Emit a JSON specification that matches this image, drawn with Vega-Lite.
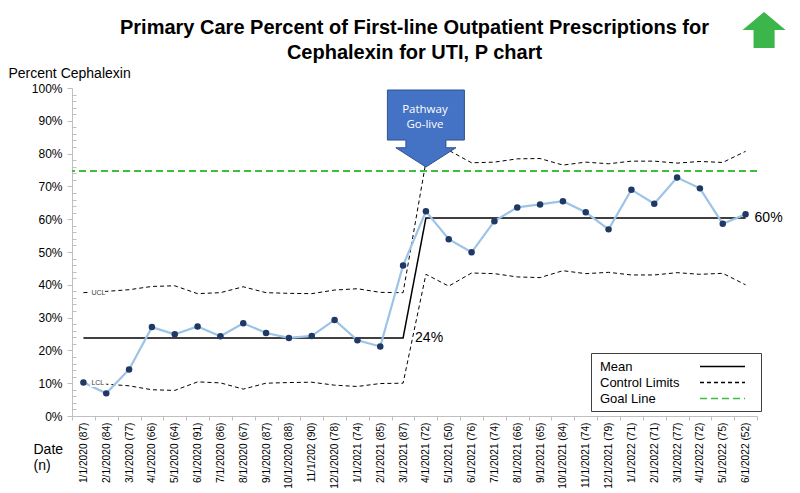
{
  "$schema": "https://vega.github.io/schema/vega-lite/v6.json",
  "width": 685,
  "height": 328,
  "autosize": {"type": "none"},
  "padding": {"left": 72, "top": 88, "right": 43, "bottom": 77},
  "background": "white",
  "title": {
    "text": ["Primary Care Percent of First-line Outpatient Prescriptions for", "Cephalexin for UTI, P chart"],
    "font": "Liberation Sans",
    "fontSize": 20,
    "fontWeight": "bold",
    "lineHeight": 25,
    "color": "#000000",
    "anchor": "middle",
    "frame": "group",
    "offset": 0,
    "dy": 51
  },
  "config": {
    "font": "Liberation Sans",
    "view": {"stroke": null},
    "legend": {
      "orient": "none",
      "legendX": 519,
      "legendY": 265,
      "symbolType": "M-3,0L3,0M4,0",
      "symbolSize": 225,
      "symbolStrokeWidth": 1.5,
      "symbolOffset": 118,
      "labelOffset": -131,
      "labelFontSize": 13,
      "labelFont": "Liberation Sans",
      "labelColor": "#000000",
      "labelLimit": 300,
      "padding": 5,
      "rowPadding": 0,
      "strokeColor": "#404040",
      "fillColor": "white"
    }
  },
  "data": {
    "values": [
      {"label": "1/1/2020 (87)", "pct": 0.102, "mean": 0.238, "UCL": 0.376, "LCL": 0.100},
      {"label": "2/1/2020 (84)", "pct": 0.069, "mean": 0.238, "UCL": 0.380, "LCL": 0.097},
      {"label": "3/1/2020 (77)", "pct": 0.142, "mean": 0.238, "UCL": 0.385, "LCL": 0.092},
      {"label": "4/1/2020 (66)", "pct": 0.271, "mean": 0.238, "UCL": 0.395, "LCL": 0.080},
      {"label": "5/1/2020 (64)", "pct": 0.249, "mean": 0.238, "UCL": 0.397, "LCL": 0.078},
      {"label": "6/1/2020 (91)", "pct": 0.273, "mean": 0.238, "UCL": 0.373, "LCL": 0.104},
      {"label": "7/1/2020 (86)", "pct": 0.243, "mean": 0.238, "UCL": 0.376, "LCL": 0.101},
      {"label": "8/1/2020 (67)", "pct": 0.283, "mean": 0.238, "UCL": 0.394, "LCL": 0.082},
      {"label": "9/1/2020 (87)", "pct": 0.253, "mean": 0.238, "UCL": 0.376, "LCL": 0.100},
      {"label": "10/1/2020 (88)", "pct": 0.238, "mean": 0.238, "UCL": 0.374, "LCL": 0.102},
      {"label": "11/1/202 (90)", "pct": 0.244, "mean": 0.238, "UCL": 0.373, "LCL": 0.103},
      {"label": "12/1/2020 (78)", "pct": 0.293, "mean": 0.238, "UCL": 0.384, "LCL": 0.094},
      {"label": "1/1/2021 (74)", "pct": 0.231, "mean": 0.238, "UCL": 0.388, "LCL": 0.090},
      {"label": "2/1/2021 (85)", "pct": 0.212, "mean": 0.238, "UCL": 0.377, "LCL": 0.099},
      {"label": "3/1/2021 (87)", "pct": 0.459, "mean": 0.238, "UCL": 0.376, "LCL": 0.100},
      {"label": "4/1/2021 (72)", "pct": 0.624, "mean": 0.604, "UCL": 0.775, "LCL": 0.432},
      {"label": "5/1/2021 (50)", "pct": 0.539, "mean": 0.604, "UCL": 0.810, "LCL": 0.396},
      {"label": "6/1/2021 (76)", "pct": 0.499, "mean": 0.604, "UCL": 0.772, "LCL": 0.436},
      {"label": "7/1/2021 (74)", "pct": 0.594, "mean": 0.604, "UCL": 0.774, "LCL": 0.434},
      {"label": "8/1/2021 (66)", "pct": 0.636, "mean": 0.604, "UCL": 0.784, "LCL": 0.424},
      {"label": "9/1/2021 (65)", "pct": 0.645, "mean": 0.604, "UCL": 0.785, "LCL": 0.422},
      {"label": "10/1/2021 (84)", "pct": 0.655, "mean": 0.604, "UCL": 0.765, "LCL": 0.443},
      {"label": "11/1/2021 (74)", "pct": 0.621, "mean": 0.604, "UCL": 0.774, "LCL": 0.434},
      {"label": "12/1/2021 (79)", "pct": 0.569, "mean": 0.604, "UCL": 0.769, "LCL": 0.438},
      {"label": "1/1/2022 (71)", "pct": 0.690, "mean": 0.604, "UCL": 0.777, "LCL": 0.430},
      {"label": "2/1/2022 (71)\u00a0\u00a0\u00a0\u00a0\u00a0", "pct": 0.647, "mean": 0.604, "UCL": 0.777, "LCL": 0.430},
      {"label": "3/1/2022 (77)", "pct": 0.727, "mean": 0.604, "UCL": 0.771, "LCL": 0.437},
      {"label": "4/1/2022 (72)", "pct": 0.694, "mean": 0.604, "UCL": 0.776, "LCL": 0.432},
      {"label": "5/1/2022 (75)", "pct": 0.586, "mean": 0.604, "UCL": 0.773, "LCL": 0.435},
      {"label": "6/1/2022 (52)", "pct": 0.615, "mean": 0.604, "UCL": 0.807, "LCL": 0.400}
    ]
  },
  "encoding": {
    "x": {
      "field": "label",
      "type": "ordinal",
      "sort": null,
      "scale": {
        "type": "band",
        "paddingInner": 0,
        "paddingOuter": 0,
        "domain": ["1/1/2020 (87)", "2/1/2020 (84)", "3/1/2020 (77)", "4/1/2020 (66)", "5/1/2020 (64)", "6/1/2020 (91)", "7/1/2020 (86)", "8/1/2020 (67)", "9/1/2020 (87)", "10/1/2020 (88)", "11/1/202 (90)", "12/1/2020 (78)", "1/1/2021 (74)", "2/1/2021 (85)", "3/1/2021 (87)", "4/1/2021 (72)", "5/1/2021 (50)", "6/1/2021 (76)", "7/1/2021 (74)", "8/1/2021 (66)", "9/1/2021 (65)", "10/1/2021 (84)", "11/1/2021 (74)", "12/1/2021 (79)", "1/1/2022 (71)", "2/1/2022 (71)\u00a0\u00a0\u00a0\u00a0\u00a0", "3/1/2022 (77)", "4/1/2022 (72)", "5/1/2022 (75)", "6/1/2022 (52)"]
      },
      "axis": {
        "title": ["Date", "(n)"],
        "labelAngle": -90,
        "labelFontSize": 10.2,
        "labelColor": "#000000",
        "labelPadding": 2,
        "tickBand": "extent",
        "tickSize": 4,
        "tickColor": "#bfbfbf",
        "domainColor": "#bfbfbf",
        "titleAngle": 0,
        "titleAlign": "left",
        "titleBaseline": "alphabetic",
        "titleX": -39,
        "titleY": 37,
        "titleFontSize": 14,
        "titleFontWeight": "normal",
        "titleColor": "#000000",
        "titleLineHeight": 16
      }
    }
  },
  "resolve": {"axis": {"y": "independent"}},
  "layer": [
    {
      "mark": {"type": "rule", "strokeWidth": 1.5},
      "encoding": {
        "x": null,
        "y": {"datum": 0.748, "type": "quantitative", "axis": null, "scale": {"domain": [0, 1], "nice": false}},
        "color": {"datum": "Goal Line", "type": "nominal", "legend": {"title": null}, "scale": {"domain": ["Mean", "Control Limits", "Goal Line"], "range": ["#000000", "#000000", "#3cbf3c"]}},
        "strokeDash": {"datum": "Goal Line", "type": "nominal", "legend": {"title": null}, "scale": {"domain": ["Mean", "Control Limits", "Goal Line"], "range": [[1, 0], [4, 3], [7, 4]]}}
      }
    },
    {
      "transform": [{"fold": ["UCL", "LCL"], "as": ["limit", "value"]}],
      "mark": {"type": "line", "strokeWidth": 1},
      "encoding": {
        "y": {"field": "value", "type": "quantitative", "axis": null, "scale": {"domain": [0, 1], "nice": false}},
        "detail": {"field": "limit"},
        "color": {"datum": "Control Limits", "type": "nominal", "legend": {"title": null}, "scale": {"domain": ["Mean", "Control Limits", "Goal Line"], "range": ["#000000", "#000000", "#3cbf3c"]}},
        "strokeDash": {"datum": "Control Limits", "type": "nominal", "legend": {"title": null}, "scale": {"domain": ["Mean", "Control Limits", "Goal Line"], "range": [[1, 0], [4, 3], [7, 4]]}}
      }
    },
    {
      "mark": {"type": "line", "strokeWidth": 1.5},
      "encoding": {
        "y": {"field": "mean", "type": "quantitative", "axis": null, "scale": {"domain": [0, 1], "nice": false}},
        "color": {"datum": "Mean", "type": "nominal", "legend": {"title": null}, "scale": {"domain": ["Mean", "Control Limits", "Goal Line"], "range": ["#000000", "#000000", "#3cbf3c"]}},
        "strokeDash": {"datum": "Mean", "type": "nominal", "legend": {"title": null}, "scale": {"domain": ["Mean", "Control Limits", "Goal Line"], "range": [[1, 0], [4, 3], [7, 4]]}}
      }
    },
    {
      "mark": {"type": "line", "color": "#9dc3e6", "strokeWidth": 2.2},
      "encoding": {
        "y": {
          "field": "pct",
          "type": "quantitative",
          "scale": {"domain": [0, 1], "nice": false},
          "axis": {
            "orient": "left",
            "title": "Percent Cephalexin",
            "format": ".0%",
            "values": [0, 0.1, 0.2, 0.3, 0.4, 0.5, 0.6, 0.7, 0.8, 0.9, 1],
            "grid": false,
            "domainColor": "#bfbfbf",
            "tickColor": "#bfbfbf",
            "tickSize": 5,
            "labelFontSize": 12,
            "labelColor": "#000000",
            "labelPadding": 5,
            "titleAngle": 0,
            "titleAlign": "left",
            "titleBaseline": "middle",
            "titleX": -64,
            "titleY": -15,
            "titleFontSize": 14,
            "titleFontWeight": "normal",
            "titleColor": "#000000"
          }
        }
      }
    },
    {
      "mark": {"type": "point", "filled": true, "color": "#1f3864", "size": 42, "opacity": 1},
      "encoding": {
        "y": {
          "field": "pct",
          "type": "quantitative",
          "scale": {"domain": [0, 1], "nice": false},
          "axis": {
            "orient": "left",
            "title": null,
            "labels": false,
            "domain": false,
            "grid": false,
            "tickColor": "#bfbfbf",
            "tickSize": 4,
            "offset": -4,
            "values": [0.02, 0.04, 0.06, 0.08, 0.12, 0.14, 0.16, 0.18, 0.22, 0.24, 0.26, 0.28, 0.32, 0.34, 0.36, 0.38, 0.42, 0.44, 0.46, 0.48, 0.52, 0.54, 0.56, 0.58, 0.62, 0.64, 0.66, 0.68, 0.72, 0.74, 0.76, 0.78, 0.82, 0.84, 0.86, 0.88, 0.92, 0.94, 0.96, 0.98]
          }
        }
      }
    },
    {
      "transform": [{"filter": "datum.label === '1/1/2020 (87)'"}, {"fold": ["UCL", "LCL"], "as": ["limit", "value"]}],
      "mark": {"type": "text", "align": "left", "baseline": "middle", "dx": 8, "fontSize": 7, "color": "white", "stroke": "white", "strokeWidth": 4},
      "encoding": {
        "y": {"field": "value", "type": "quantitative", "axis": null, "scale": {"domain": [0, 1], "nice": false}},
        "text": {"field": "limit"}
      }
    },
    {
      "transform": [{"filter": "datum.label === '1/1/2020 (87)'"}, {"fold": ["UCL", "LCL"], "as": ["limit", "value"]}],
      "mark": {"type": "text", "align": "left", "baseline": "middle", "dx": 8, "fontSize": 7, "color": "#404040"},
      "encoding": {
        "y": {"field": "value", "type": "quantitative", "axis": null, "scale": {"domain": [0, 1], "nice": false}},
        "text": {"field": "limit"}
      }
    },
    {
      "transform": [{"filter": "datum.label === '3/1/2021 (87)'"}],
      "mark": {"type": "text", "align": "left", "baseline": "middle", "dx": 12, "fontSize": 14, "color": "#000000"},
      "encoding": {
        "y": {"field": "mean", "type": "quantitative", "axis": null, "scale": {"domain": [0, 1], "nice": false}},
        "text": {"value": "24%"}
      }
    },
    {
      "transform": [{"filter": "datum.label === '6/1/2022 (52)'"}],
      "mark": {"type": "text", "align": "left", "baseline": "middle", "dx": 9, "fontSize": 14, "color": "#000000"},
      "encoding": {
        "y": {"field": "mean", "type": "quantitative", "axis": null, "scale": {"domain": [0, 1], "nice": false}},
        "text": {"value": "60%"}
      }
    },
    {
      "transform": [{"filter": "datum.label === '4/1/2021 (72)'"}],
      "mark": {"type": "point", "filled": true, "opacity": 1, "shape": "M-1,-1L1,-1L1,0.3L0.52,0.3L0.52,0.5L0.78,0.5L0,1L-0.78,0.5L-0.52,0.5L-0.52,0.3L-1,0.3Z", "size": 5929, "fill": "#4472c4", "stroke": "#2f528f", "strokeWidth": 1},
      "encoding": {
        "y": {"datum": 0.8765, "type": "quantitative", "axis": null, "scale": {"domain": [0, 1], "nice": false}}
      }
    },
    {
      "transform": [{"filter": "datum.label === '4/1/2021 (72)'"}],
      "mark": {"type": "text", "align": "center", "baseline": "middle", "fontSize": 11.5, "font": "Open Sans", "color": "white", "lineBreak": "\n", "lineHeight": 15, "dx": -1},
      "encoding": {
        "y": {"datum": 0.934, "type": "quantitative", "axis": null, "scale": {"domain": [0, 1], "nice": false}},
        "text": {"value": "Pathway\nGo-live"}
      }
    },
    {
      "transform": [{"filter": "datum.label === '6/1/2022 (52)'"}],
      "mark": {"type": "point", "filled": true, "opacity": 1, "shape": "M0,-0.84L1,0L0.49,0L0.49,0.84L-0.49,0.84L-0.49,0L-1,0Z", "size": 1849, "fill": "#3cb54a", "strokeWidth": 0, "xOffset": 18.5},
      "encoding": {
        "y": {"datum": 1.177, "type": "quantitative", "axis": null, "scale": {"domain": [0, 1], "nice": false}}
      }
    }
  ]
}
